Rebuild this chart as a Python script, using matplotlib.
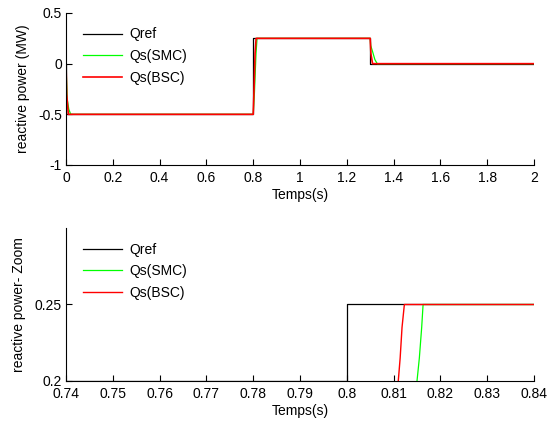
import matplotlib
matplotlib.use("Agg")
import matplotlib.pyplot as plt

plt.rcParams['font.family'] = ['Liberation Sans', 'DejaVu Sans']
plt.rcParams['font.size'] = 10

# Top panel: breakpoints (time s, power MW)
t_ref = [0.0, 0.0, 0.8, 0.8, 1.3, 1.3, 2.0]
q_ref = [0.0, -0.5, -0.5, 0.25, 0.25, 0.0, 0.0]

t_smc = [0.0, 0.002, 0.005, 0.012, 0.02, 0.8, 0.805, 0.812, 0.8165, 1.3, 1.302, 1.31, 1.32, 1.33, 2.0]
q_smc = [0.0, -0.15, -0.35, -0.45, -0.5, -0.5, -0.3, 0.1, 0.25, 0.25, 0.18, 0.12, 0.04, 0.0, 0.0]

t_bsc = [0.0, 0.003, 0.01, 0.8, 0.803, 0.808, 0.8125, 1.3, 1.303, 1.31, 2.0]
q_bsc = [0.0, -0.3, -0.5, -0.5, -0.3, 0.1, 0.25, 0.25, 0.1, 0.0, 0.0]

# Bottom panel (zoom)
tz_ref = [0.74, 0.8, 0.8, 0.84]
qz_ref = [0.2, 0.2, 0.25, 0.25]
tz_smc = [0.815, 0.8155, 0.816, 0.8163, 0.84]
qz_smc = [0.2, 0.215, 0.235, 0.25, 0.25]
tz_bsc = [0.811, 0.8114, 0.8118, 0.8123, 0.84]
qz_bsc = [0.2, 0.215, 0.235, 0.25, 0.25]

labels = ['Qref', 'Qs(SMC)', 'Qs(BSC)']
colors = ['black', '#00ff00', 'red']

fig = plt.figure(figsize=(5.5, 4.21), dpi=100)
W, H = 550, 421
ax1 = fig.add_axes([66 / W, 1 - 165 / H, (534 - 66) / W, (165 - 13) / H])
ax2 = fig.add_axes([66 / W, 1 - 381 / H, (534 - 66) / W, (381 - 228) / H])

ax1.plot(t_ref, q_ref, color=colors[0], lw=0.9, label=labels[0])
ax1.plot(t_smc, q_smc, color=colors[1], lw=0.9, label=labels[1])
ax1.plot(t_bsc, q_bsc, color=colors[2], lw=1.2, label=labels[2])
ax1.set_xlim(0, 2)
ax1.set_ylim(-1, 0.5)
ax1.set_xticks([0, 0.2, 0.4, 0.6, 0.8, 1, 1.2, 1.4, 1.6, 1.8, 2])
ax1.set_xticklabels(['0', '0.2', '0.4', '0.6', '0.8', '1', '1.2', '1.4', '1.6', '1.8', '2'])
ax1.set_yticks([-1, -0.5, 0, 0.5])
ax1.set_yticklabels(['-1', '-0.5', '0', '0.5'])
ax1.set_xlabel('Temps(s)', labelpad=2)
ax1.set_ylabel('reactive power (MW)', labelpad=6)

ax2.plot(tz_ref, qz_ref, color=colors[0], lw=0.9, label=labels[0])
ax2.plot(tz_smc, qz_smc, color=colors[1], lw=0.9, label=labels[1])
ax2.plot(tz_bsc, qz_bsc, color=colors[2], lw=1.0, label=labels[2])
ax2.set_xlim(0.74, 0.84)
ax2.set_ylim(0.2, 0.3)
ax2.set_xticks([0.74, 0.75, 0.76, 0.77, 0.78, 0.79, 0.8, 0.81, 0.82, 0.83, 0.84])
ax2.set_xticklabels(['0.74', '0.75', '0.76', '0.77', '0.78', '0.79', '0.8', '0.81', '0.82', '0.83', '0.84'])
ax2.set_yticks([0.2, 0.25])
ax2.set_yticklabels(['0.2', '0.25'])
ax2.set_xlabel('Temps(s)', labelpad=2)
ax2.set_ylabel('reactive power- Zoom', labelpad=6)

for ax in (ax1, ax2):
    ax.spines['top'].set_visible(False)
    ax.spines['right'].set_visible(False)
    ax.spines['left'].set_linewidth(0.8)
    ax.spines['bottom'].set_linewidth(0.8)
    ax.tick_params(direction='in', length=4, width=0.8, labelsize=10)
    ax.tick_params(axis='x', pad=4.5)
    ax.tick_params(axis='y', pad=3)
    ax.legend(loc='upper left', frameon=False, handlelength=2.8,
              handletextpad=0.55, labelspacing=0.55, fontsize=10,
              borderpad=0, borderaxespad=0,
              bbox_to_anchor=(0.036, 0.905))

fig.savefig('out.png', dpi=100)
